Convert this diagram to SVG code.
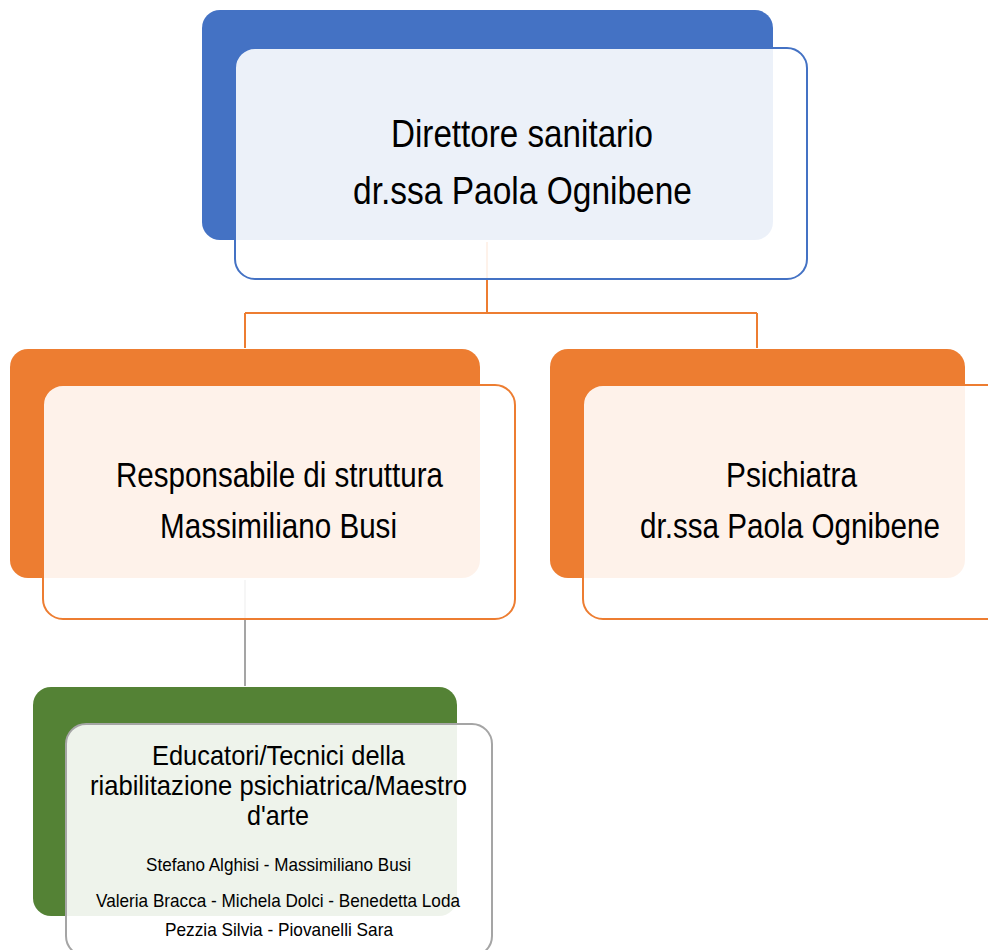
<svg xmlns="http://www.w3.org/2000/svg" width="988" height="950" viewBox="0 0 988 950">
<style>
.front{fill:#ffffff;fill-opacity:0.9;stroke-width:2}
.t{font-family:"Liberation Sans",Arial,sans-serif;fill:#000;text-anchor:start}
.conn{fill:none;stroke-width:2}
</style>
<rect width="988" height="950" fill="#ffffff"/>
<g id="connectors">
<path class="conn" stroke="#ED7D31" d="M487,242 V313 M245,313 H757 M245,313 V348 M757,313 V348"/>
<path class="conn" stroke="#A5A5A5" d="M245,580 V686"/>
</g>
<g id="node-direttore">
<rect x="202" y="10" width="571" height="230" rx="18" fill="#4472C4"/>
<rect class="front" x="235" y="48" width="572" height="231" rx="20" stroke="#4472C4"/>
<text class="t" x="391" y="147" font-size="39" textLength="262" lengthAdjust="spacingAndGlyphs">Direttore sanitario</text>
<text class="t" x="353" y="204" font-size="39" textLength="339" lengthAdjust="spacingAndGlyphs">dr.ssa Paola Ognibene</text>
</g>
<g id="node-responsabile">
<rect x="10" y="349" width="470" height="229" rx="18" fill="#ED7D31"/>
<rect class="front" x="43" y="385" width="472" height="234" rx="20" stroke="#ED7D31"/>
<text class="t" x="116" y="487" font-size="35" textLength="327" lengthAdjust="spacingAndGlyphs">Responsabile di struttura</text>
<text class="t" x="160" y="538" font-size="35" textLength="237" lengthAdjust="spacingAndGlyphs">Massimiliano Busi</text>
</g>
<g id="node-psichiatra">
<rect x="550" y="349" width="415" height="229" rx="18" fill="#ED7D31"/>
<rect class="front" x="583" y="385" width="425" height="234" rx="20" stroke="#ED7D31"/>
<text class="t" x="726" y="487" font-size="35" textLength="131" lengthAdjust="spacingAndGlyphs">Psichiatra</text>
<text class="t" x="640" y="538" font-size="35" textLength="300" lengthAdjust="spacingAndGlyphs">dr.ssa Paola Ognibene</text>
</g>
<g id="node-educatori">
<rect x="33" y="687" width="424" height="229" rx="18" fill="#548235"/>
<rect class="front" x="66" y="724" width="426" height="232" rx="20" stroke="#A5A5A5"/>
<text class="t" x="152" y="765" font-size="28" textLength="253" lengthAdjust="spacingAndGlyphs">Educatori/Tecnici della</text>
<text class="t" x="90" y="795" font-size="28" textLength="377" lengthAdjust="spacingAndGlyphs">riabilitazione psichiatrica/Maestro</text>
<text class="t" x="247" y="825" font-size="28" textLength="62" lengthAdjust="spacingAndGlyphs">d'arte</text>
<text class="t" x="146" y="871" font-size="19" textLength="265" lengthAdjust="spacingAndGlyphs">Stefano Alghisi - Massimiliano Busi</text>
<text class="t" x="96" y="907" font-size="19" textLength="364" lengthAdjust="spacingAndGlyphs">Valeria Bracca - Michela Dolci - Benedetta Loda</text>
<text class="t" x="165" y="936" font-size="19" textLength="228" lengthAdjust="spacingAndGlyphs">Pezzia Silvia - Piovanelli Sara</text>
</g>
</svg>
